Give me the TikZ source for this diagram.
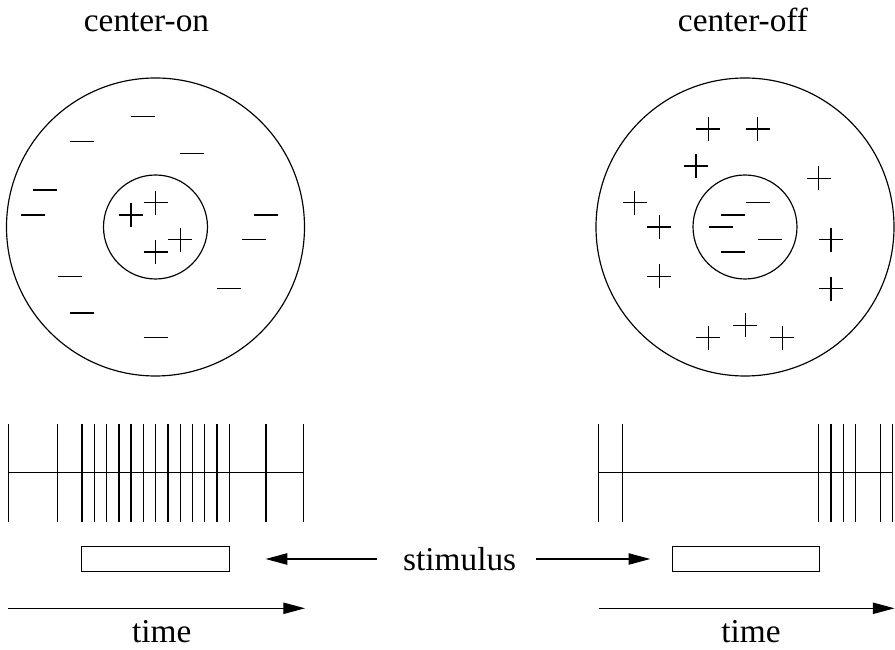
\documentclass[tikz,border=0pt]{standalone}
\usepackage{fontspec}
\setmainfont{Liberation Serif}
\usetikzlibrary{arrows.meta}
\tikzset{
  field/.style={circle, draw, line width=0.35pt, inner sep=0pt},
  outerfield/.style={field, minimum size=89.4pt},
  innerfield/.style={field, minimum size=31.2pt},
  caption/.style={font=\fontsize{10}{12}\selectfont, inner sep=0pt},
  stimbox/.style={draw, line width=0.35pt, inner sep=0pt,
    minimum width=44.3pt, minimum height=7.4pt},
  spike/.style={line width=0.35pt},
  arr/.style={-{Triangle[length=6.5pt, width=3.4pt]}, line width=0.35pt},
  plussign/.pic={\draw[line width=0.35pt] (-12,0) -- (12,0) (0,-12) -- (0,12);},
  minussign/.pic={\draw[line width=0.35pt] (-12,0) -- (12,0);},
}
\begin{document}
\begin{tikzpicture}[x=0.3pt, y=-0.3pt]
  \useasboundingbox (0,0) rectangle (895,650);

  % === Titles ===
  \node[caption, anchor=base] (titleon) at (146.5,31.7) {center-on};
  \node[caption, anchor=base] (titleoff) at (743,31.7) {center-off};

  % === Receptive fields ===
  \node[outerfield] (fieldon) at (155.5,227) {};
  \node[innerfield] (centeron) at (155.5,227) {};
  \node[outerfield] (fieldoff) at (745,227) {};
  \node[innerfield] (centeroff) at (745,227) {};

  % center-on: plus inside, minus around
  \foreach \x/\y in {131/215, 155.7/202.7, 180.3/239.7, 155.7/252}
    \pic at (\x,\y) {plussign};
  \foreach \x/\y in {143.3/116.7, 82/141.7, 192.3/153.3, 45.3/190, 32.7/215,
                     266/215, 254/239.7, 69.7/276.3, 229.3/288.7, 82/313, 155.7/337.7}
    \pic at (\x,\y) {minussign};

  % center-off: minus inside, plus around
  \foreach \x/\y in {757.7/202.7, 733.3/215, 720.7/227, 770/239.7, 733.3/252}
    \pic at (\x,\y) {minussign};
  \foreach \x/\y in {708.3/129, 757.7/129, 696/166, 818.7/178.3, 634.7/202.7,
                     659.3/227, 831/239.7, 659.3/276.3, 831/288.7, 745.3/325.3,
                     708.3/337.7, 782.3/337.7}
    \pic at (\x,\y) {plussign};

  % === Spike trains ===
  \draw[spike] (8.3,472.7) -- (303.3,472.7);
  \foreach \x in {8.3, 57.7, 82, 94.3, 106.7, 119, 131, 143.3, 155.7, 168,
                  180.3, 192.7, 204.7, 217, 229.3, 266, 303.3}
    \draw[spike] (\x,424) -- (\x,521.7);
  \draw[spike] (598.3,472.7) -- (892.7,472.7);
  \foreach \x in {598.3, 622.3, 818.7, 831, 843.3, 855.7, 880.3, 892.7}
    \draw[spike] (\x,424) -- (\x,521.7);

  % === Stimulus ===
  \node[stimbox] (stimon) at (155.5,559) {};
  \node[stimbox] (stimoff) at (746,559) {};
  \node[caption] (stim) at (459.7,559) {stimulus};
  \draw[arr, shorten <=7.8pt, shorten >=10.7pt] (stim) -- (stimon);
  \draw[arr, shorten <=5.8pt, shorten >=6.4pt] (stim) -- (stimoff);

  % === Time axes ===
  \coordinate (timeonstart) at (8.3,608.3);
  \coordinate (timeonend) at (305,608.3);
  \coordinate (timeoffstart) at (598.6,608.3);
  \coordinate (timeoffend) at (894.5,608.3);
  \draw[arr] (timeonstart) -- (timeonend);
  \draw[arr] (timeoffstart) -- (timeoffend);
  \node[caption, anchor=base] (timeon) at (161.7,643) {time};
  \node[caption, anchor=base] (timeoff) at (751,643) {time};

\end{tikzpicture}
\end{document}
